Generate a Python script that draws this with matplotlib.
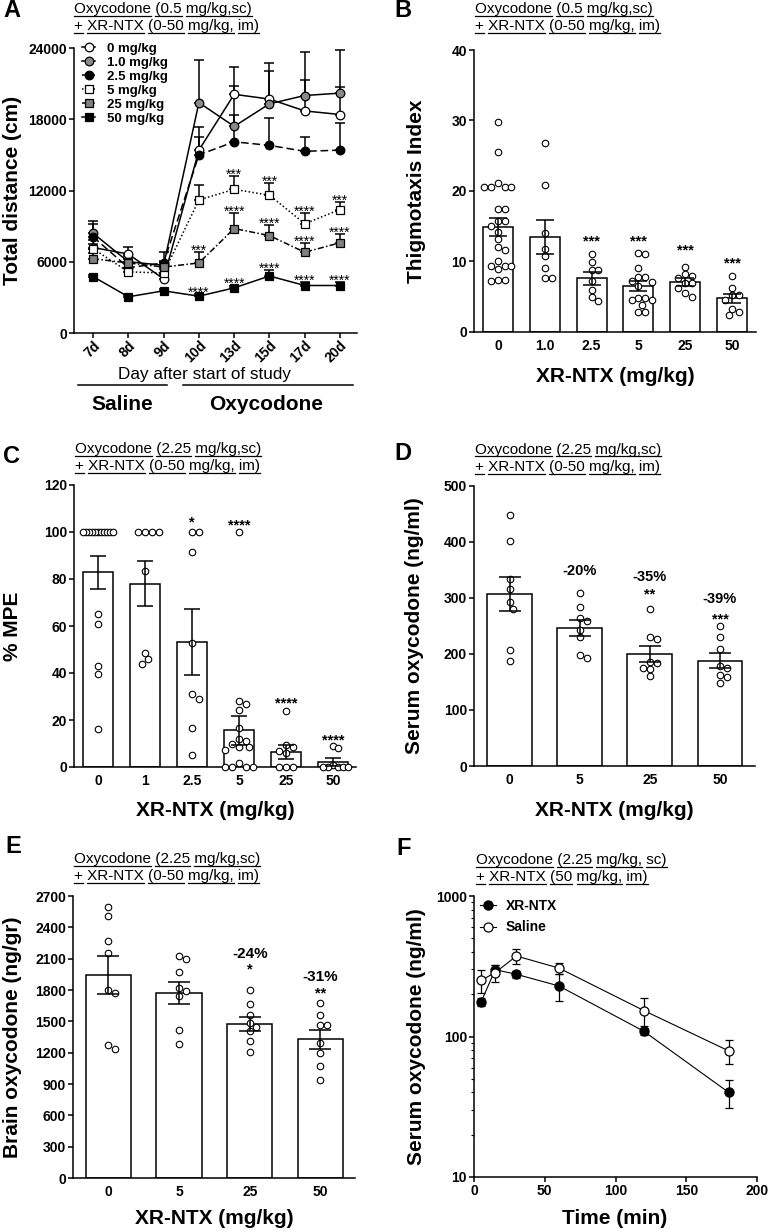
import numpy as np
import matplotlib
matplotlib.use("Agg")
import matplotlib.pyplot as plt
from matplotlib.lines import Line2D
from matplotlib.ticker import LogLocator, NullFormatter

plt.rcParams['font.family'] = ['Liberation Sans', 'DejaVu Sans']
plt.rcParams['font.weight'] = 'bold'
plt.rcParams['axes.linewidth'] = 1.1

# ---------------- data ----------------
# A: total distance, mean and upper SEM per day
days = ['7d', '8d', '9d', '10d', '13d', '15d', '17d', '20d']
a_labels = ['0 mg/kg', '1.0 mg/kg', '2.5 mg/kg', '5 mg/kg', '25 mg/kg', '50 mg/kg']
a_mean_0 = [7200, 6650, 4550, 15400, 20100, 19700, 18700, 18400]
a_sem_0 = [600, 600, 300, 1950, 2300, 2350, 2600, 2300]
a_mean_1 = [8400, 6000, 5700, 19400, 17400, 19300, 20000, 20200]
a_sem_1 = [1000, 500, 400, 3600, 3400, 3450, 3700, 3600]
a_mean_2 = [8100, 5500, 5900, 15000, 16100, 15800, 15300, 15400]
a_sem_2 = [1050, 400, 950, 1500, 2300, 2300, 1200, 2300]
a_mean_5 = [7100, 5150, 5050, 11200, 12100, 11600, 9200, 10400]
a_sem_5 = [400, 300, 300, 1300, 1100, 1000, 900, 600]
a_mean_25 = [6250, 5900, 5550, 5900, 8800, 8200, 6800, 7600]
a_sem_25 = [500, 350, 400, 900, 1300, 900, 800, 700]
a_mean_50 = [4750, 3050, 3550, 3100, 3800, 4800, 4000, 4000]
a_sem_50 = [150, 150, 150, 150, 200, 500, 300, 300]
a_stars_5 = ['', '', '', '', '***', '***', '****', '***']
a_stars_25 = ['', '', '', '***', '****', '****', '****', '****']
a_stars_50 = ['', '', '', '****', '****', '****', '****', '****']

# B: thigmotaxis index
b_doses = ['0', '1.0', '2.5', '5', '25', '50']
b_mean = [14.9, 13.5, 7.6, 6.5, 7.1, 4.8]
b_sem = [1.3, 2.4, 0.9, 0.7, 0.55, 0.65]
b_pts_0 = [29.8, 25.5, 21.1, 20.6, 20.6, 20.6, 20.6, 17.5, 17.5, 15.8, 15.8, 15.0,
           14.2, 13.2, 12.0, 11.6, 10.0, 9.4, 9.4, 9.4, 8.9, 7.4, 7.4, 7.2]
b_pts_1 = [26.8, 20.8, 14.0, 11.8, 10.8, 9.1, 7.6, 7.6]
b_pts_2 = [11.0, 9.9, 8.8, 8.8, 7.2, 6.0, 5.0, 4.4]
b_pts_3 = [11.1, 11.2, 9.1, 7.8, 7.8, 7.3, 7.1, 6.5, 4.8, 4.8, 4.6, 4.5, 3.9, 2.9, 2.9]
b_pts_4 = [9.2, 8.2, 7.9, 7.7, 7.0, 6.9, 6.2, 5.6, 4.9]
b_pts_5 = [8.0, 6.3, 5.3, 5.2, 4.6, 3.3, 2.9, 2.4]
b_stars = ['', '', '***', '***', '***', '***']
b_star_y = [0, 0, 13.5, 13.5, 12.2, 10.3]

# C: % MPE
c_doses = ['0', '1', '2.5', '5', '25', '50']
c_mean = [82.9, 78.0, 53.2, 15.7, 6.4, 2.1]
c_sem = [7.0, 9.5, 14.0, 6.2, 2.8, 1.7]
c_pts_0 = [100, 100, 100, 100, 100, 100, 100, 100, 100, 100, 100, 65.3, 61.0, 43.0, 39.6, 16.0]
c_pts_1 = [100, 100, 100, 100, 83.4, 48.5, 46.0, 43.8]
c_pts_2 = [100, 100, 91.5, 52.7, 31.0, 29.0, 16.6, 5.0]
c_pts_3 = [100, 28.2, 26.6, 24.4, 16.5, 12.0, 11.1, 9.6, 8.5, 8.5, 7.2, 1.7, 0, 0, 0, 0]
c_pts_4 = [24.0, 9.4, 8.5, 7.0, 5.9, 0, 0, 0]
c_pts_5 = [8.9, 8.0, 1.0, 0, 0, 0, 0, 0]
c_stars = ['', '', '*', '****', '****', '****']
c_star_y = [0, 0, 106, 104.8, 29, 13]

# D: serum oxycodone
d_doses = ['0', '5', '25', '50']
d_mean = [307, 246, 200, 188]
d_sem = [31, 14, 15, 13.5]
d_pts_0 = [448, 401, 334, 316, 292, 281, 207, 188]
d_pts_1 = [309, 284, 264, 259, 243, 230, 198, 193]
d_pts_2 = [280, 230, 227, 185, 184, 175, 173, 160]
d_pts_3 = [250, 230, 209, 178, 175, 163, 159, 148]
d_pct = ['', '-20%', '-35%', '-39%']
d_pct_y = [0, 351, 340, 300]
d_stars = ['', '', '**', '***']
d_star_y = [0, 0, 315, 270]

# E: brain oxycodone
e_doses = ['0', '5', '25', '50']
e_mean = [1946, 1773, 1476, 1329]
e_sem = [183, 105, 69, 90]
e_pts_0 = [2597, 2508, 2268, 2150, 1799, 1767, 1272, 1233]
e_pts_1 = [2128, 2096, 1974, 1821, 1792, 1741, 1415, 1284]
e_pts_2 = [1799, 1665, 1559, 1486, 1447, 1409, 1313, 1208]
e_pts_3 = [1677, 1559, 1463, 1463, 1297, 1201, 1073, 942]
e_pct = ['', '', '-24%', '-31%']
e_pct_y = [0, 0, 2160, 1942]
e_stars = ['', '', '*', '**']
e_star_y = [0, 0, 2038, 1805]

# F: serum time course
f_time = [5, 15, 30, 60, 120, 180]
f_xr_mean = [176, 299, 277, 229, 109, 40]
f_xr_sem = [12, 22, 15, 50, 6, 9]
f_sal_mean = [251, 285, 374, 307, 153, 79]
f_sal_sem = [48, 40, 47, 28, 35, 15]

# ---------------- helpers ----------------
W, H = 768, 1232
fig = plt.figure(figsize=(W / 100, H / 100), dpi=100)
titles = []


def px_axes(l, t, r, b):
    return fig.add_axes([l / W, 1 - b / H, (r - l) / W, (b - t) / H])


def ftext(x, y, s, **kw):
    return fig.text(x / W, 1 - y / H, s, **kw)


def style(ax):
    for s in ['top', 'right']:
        ax.spines[s].set_visible(False)
    ax.tick_params(direction='out', length=3.5, width=1.1, pad=1.5, labelsize=10)


def head(letter, lx, ly, tx, ty, lines):
    ftext(lx, ly, letter, ha='left', va='baseline', fontsize=17, fontweight='bold')
    for k, s in enumerate(lines):
        t = ftext(tx, ty + 17 * k, s, ha='left', va='baseline', fontsize=11, fontweight='normal')
        titles.append(t)


def mark(ax, x, y, s, size, kind='star', weight='bold'):
    # place text so that its glyphs are centred on y
    frac = 0.58 if kind == 'star' else 0.36
    if s:
        ax.annotate(s, (x, y), xytext=(0, -frac * size), textcoords='offset points',
                    ha='center', va='baseline', fontsize=size, fontweight=weight)


def swarm(vals, ppu_y, ppu_x, d=6.8, half=15.0):
    v = np.asarray(vals, float)
    y = v * ppu_y
    off = np.zeros(len(v))
    placed = []
    cands = [0.0]
    for j in range(1, 40):
        cands += [j * d * 0.5, -j * d * 0.5]
    for i in np.argsort(-v, kind='stable'):
        for c in cands:
            if all((c - px) ** 2 + (y[i] - py) ** 2 >= 0.95 * d * d for px, py in placed):
                break
        placed.append((c, y[i]))
        off[i] = c
    m = np.abs(off).max()
    if m > half:
        off *= half / m
    return off / ppu_x


def bar_panel(ax, labels, means, sems, groups, ylim, yticks, xlim, capsize):
    x = np.arange(len(labels))
    ax.set_xlim(*xlim)
    ax.set_ylim(*ylim)
    bb = ax.get_position()
    ppu_y = bb.height * H / (ylim[1] - ylim[0])
    ppu_x = bb.width * W / (xlim[1] - xlim[0])
    ax.bar(x, means, width=0.64, color='white', edgecolor='black', linewidth=1.1, zorder=1)
    for i, pts in enumerate(groups):
        ax.scatter(x[i] + swarm(pts, ppu_y, ppu_x), pts, s=22, facecolor='white',
                   edgecolor='black', linewidths=0.8, zorder=3, clip_on=False)
    ax.errorbar(x, means, yerr=sems, fmt='none', ecolor='black', elinewidth=1.1,
                capsize=capsize, capthick=1.1, zorder=4)
    ax.set_xticks(x)
    ax.set_xticklabels(labels)
    ax.set_yticks(yticks)
    style(ax)
    ax.tick_params(axis='x', length=0, pad=5)


# ---------------- A ----------------
axA = px_axes(74, 48, 357, 333)
xa = np.arange(len(days))
a_series = [
    (a_mean_0, a_sem_0, 'o', 'white', '-'),
    (a_mean_1, a_sem_1, 'o', '#8a8a8a', '-'),
    (a_mean_2, a_sem_2, 'o', 'black', (0, (5, 2.5))),
    (a_mean_5, a_sem_5, 's', 'white', (0, (1, 1.5))),
    (a_mean_25, a_sem_25, 's', '#808080', (0, (4, 1.5, 1, 1.5))),
    (a_mean_50, a_sem_50, 's', 'black', '-'),
]
handles = []
for (m, e, mk, fc, ls), lab in zip(a_series, a_labels):
    axA.errorbar(xa, m, yerr=[np.zeros(len(m)), e], fmt='none', ecolor='black',
                 elinewidth=1.1, capsize=3.5, capthick=1.1, zorder=2)
    axA.plot(xa, m, ls=ls, color='black', lw=1.1, marker=mk, ms=6.2, mfc=fc,
             mec='black', mew=0.9, zorder=3)
    handles.append(Line2D([], [], ls=ls, color='black', lw=1.1, marker=mk, ms=6.2,
                          mfc=fc, mec='black', mew=0.9, label=lab))
for m, e, st in [(a_mean_5, a_sem_5, a_stars_5), (a_mean_25, a_sem_25, a_stars_25),
                 (a_mean_50, a_sem_50, a_stars_50)]:
    for i in range(len(days)):
        mark(axA, xa[i], m[i] + e[i] + 450, st[i], 10, weight='normal')
axA.set_xlim(-0.54, 7.48)
axA.set_ylim(0, 24000)
axA.set_yticks([0, 6000, 12000, 18000, 24000])
axA.set_xticks(xa)
axA.set_xticklabels(days, rotation=45, ha='right', rotation_mode='anchor', fontsize=9.5)
style(axA)
axA.tick_params(axis='x', pad=0.5)
axA.legend(handles=handles, loc='upper left', bbox_to_anchor=(0.028, 1.02), frameon=False,
           fontsize=9.5, handlelength=1.0, handletextpad=0.9, labelspacing=0.14,
           borderpad=0, borderaxespad=0)
head('A', 3, 17, 74, 13, ['Oxycodone (0.5 mg/kg,sc)', '+ XR-NTX (0-50 mg/kg, im)'])
ftext(13, 190, 'Total distance (cm)', rotation=90, ha='center', va='center', fontsize=15)
ftext(204, 374, 'Day after start of study', ha='center', va='center', fontsize=12.3,
      fontweight='normal')
fig.add_artist(Line2D([78 / W, 167 / W], [1 - 385 / H] * 2, color='black', lw=1.1))
fig.add_artist(Line2D([183 / W, 353 / W], [1 - 385 / H] * 2, color='black', lw=1.1))
ftext(122, 404, 'Saline', ha='center', va='center', fontsize=15)
ftext(266, 404, 'Oxycodone', ha='center', va='center', fontsize=15)

# ---------------- B ----------------
axB = px_axes(474, 50, 756, 332)
bar_panel(axB, b_doses, b_mean, b_sem, [b_pts_0, b_pts_1, b_pts_2, b_pts_3, b_pts_4, b_pts_5],
          (0, 40), [0, 10, 20, 30, 40], (-0.51, 5.51), 6.5)
for i in range(len(b_doses)):
    mark(axB, i, b_star_y[i], b_stars[i], 10.5)
head('B', 394, 17, 475, 13, ['Oxycodone (0.5 mg/kg,sc)', '+ XR-NTX (0-50 mg/kg, im)'])
ftext(416, 191, 'Thigmotaxis Index', rotation=90, ha='center', va='center', fontsize=15)
ftext(615, 377, 'XR-NTX (mg/kg)', ha='center', va='center', fontsize=15)

# ---------------- C ----------------
axC = px_axes(74, 485, 356, 767)
bar_panel(axC, c_doses, c_mean, c_sem, [c_pts_0, c_pts_1, c_pts_2, c_pts_3, c_pts_4, c_pts_5],
          (0, 120), [0, 20, 40, 60, 80, 100, 120], (-0.51, 5.49), 6.0)
for i in range(len(c_doses)):
    mark(axC, i, c_star_y[i], c_stars[i], 10.5)
head('C', 3, 463, 75, 453, ['Oxycodone (2.25 mg/kg,sc)', '+ XR-NTX (0-50 mg/kg, im)'])
ftext(12, 626, '% MPE', rotation=90, ha='center', va='center', fontsize=15)
ftext(215, 810, 'XR-NTX (mg/kg)', ha='center', va='center', fontsize=15)

# ---------------- D ----------------
axD = px_axes(474, 486, 755, 766)
bar_panel(axD, d_doses, d_mean, d_sem, [d_pts_0, d_pts_1, d_pts_2, d_pts_3],
          (0, 500), [0, 100, 200, 300, 400, 500], (-0.51, 3.5), 8.0)
for i in range(len(d_doses)):
    mark(axD, i, d_pct_y[i], d_pct[i], 10.5, kind='pct')
    mark(axD, i, d_star_y[i], d_stars[i], 10.5)
head('D', 394, 460, 475, 454, ['Oxycodone (2.25 mg/kg,sc)', '+ XR-NTX (0-50 mg/kg, im)'])
ftext(415, 626, 'Serum oxycodone (ng/ml)', rotation=90, ha='center', va='center', fontsize=15)
ftext(614, 810, 'XR-NTX (mg/kg)', ha='center', va='center', fontsize=15)

# ---------------- E ----------------
axE = px_axes(73, 896, 355, 1178)
bar_panel(axE, e_doses, e_mean, e_sem, [e_pts_0, e_pts_1, e_pts_2, e_pts_3],
          (0, 2700), list(range(0, 2701, 300)), (-0.5, 3.49), 8.0)
for i in range(len(e_doses)):
    mark(axE, i, e_pct_y[i], e_pct[i], 11, kind='pct')
    mark(axE, i, e_star_y[i], e_stars[i], 10.5)
head('E', 5, 853, 74, 863, ['Oxycodone (2.25 mg/kg,sc)', '+ XR-NTX (0-50 mg/kg, im)'])
ftext(13, 1037, 'Brain oxycodone (ng/gr)', rotation=90, ha='center', va='center', fontsize=15)
ftext(214, 1219, 'XR-NTX (mg/kg)', ha='center', va='center', fontsize=15)

# ---------------- F ----------------
axF = px_axes(474, 896, 757, 1177)
axF.errorbar(f_time, f_sal_mean, yerr=f_sal_sem, fmt='none', ecolor='black', elinewidth=0.9,
             capsize=3, capthick=0.9, zorder=2)
axF.errorbar(f_time, f_xr_mean, yerr=f_xr_sem, fmt='none', ecolor='black', elinewidth=0.9,
             capsize=3, capthick=0.9, zorder=2)
axF.plot(f_time, f_xr_mean, '-o', color='black', lw=0.8, ms=6.5, mfc='black', mec='black',
         zorder=3, label='XR-NTX')
axF.plot(f_time, f_sal_mean, '-o', color='black', lw=0.8, ms=6.5, mfc='white', mec='black',
         mew=0.9, zorder=3, label='Saline')
axF.set_yscale('log')
axF.set_xlim(0, 200)
axF.set_ylim(10, 1000)
axF.set_xticks([0, 50, 100, 150, 200])
axF.set_yticks([10, 100, 1000])
axF.set_yticklabels(['10', '100', '1000'])
axF.yaxis.set_minor_locator(LogLocator(base=10, subs=np.arange(2, 10)))
axF.yaxis.set_minor_formatter(NullFormatter())
style(axF)
axF.tick_params(axis='y', which='minor', length=2.2, width=0.8)
axF.legend(loc='upper left', bbox_to_anchor=(0.02, 0.99), frameon=False, fontsize=10,
           handlelength=1.2, handletextpad=0.7, labelspacing=0.55, borderpad=0,
           borderaxespad=0)
head('F', 396, 855, 476, 864, ['Oxycodone (2.25 mg/kg, sc)', '+ XR-NTX (50 mg/kg, im)'])
ftext(416, 1037, 'Serum oxycodone (ng/ml)', rotation=90, ha='center', va='center', fontsize=15)
ftext(615, 1218, 'Time (min)', ha='center', va='center', fontsize=15)

# ---------------- word underlines on subtitles ----------------
fig.canvas.draw()
rend = fig.canvas.get_renderer()
for t in titles:
    s = t.get_text()
    prop = t.get_fontproperties()
    x0 = t.get_window_extent(rend).x0
    yb = t.get_transform().transform(t.get_position())[1]
    ref = rend.get_text_width_height_descent('|', prop, ismath=False)[0]

    def wid(p):
        return rend.get_text_width_height_descent(p + '|', prop, ismath=False)[0] - ref

    pos = 0
    for word in s.split(' '):
        start = s.index(word, pos)
        w0 = wid(s[:start]) if start else 0
        w1 = wid(s[:start + len(word)])
        pos = start + len(word)
        fig.add_artist(Line2D([(x0 + w0) / W, (x0 + w1) / W], [(yb - 2.5) / H] * 2,
                              color='black', lw=0.9))

fig.savefig('out.png', dpi=100)
